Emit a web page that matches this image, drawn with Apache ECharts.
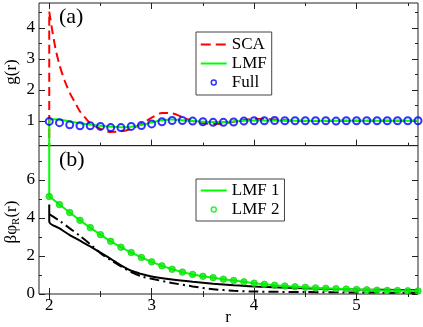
<!DOCTYPE html>
<html><head><meta charset="utf-8">
<script src="https://cdn.jsdelivr.net/npm/echarts@6/dist/echarts.min.js"></script>
<style>html,body{margin:0;padding:0;background:#fff}#c{width:423px;height:327px}</style>
</head><body><div id="c"></div>
<script>
// ---- data ----
const rSCA = [2,2,2.03,2.06,2.1,2.15,2.2,2.25,2.3,2.35,2.4,2.5,2.6,2.7,2.8,2.9,3.0,3.1,3.2,3.3,3.4,3.5,3.6,3.7,3.8,3.9,4.0,4.1,4.2,4.4,4.6,4.8,5.0,5.2,5.4,5.6];
const gSCA = [0,4.52,3.9,3.35,2.8,2.3,1.9,1.6,1.3,1.1,0.92,0.74,0.64,0.66,0.74,0.9,1.1,1.25,1.24,1.12,0.99,0.92,0.9,0.92,0.97,1.03,1.06,1.06,1.04,1.0,0.99,1.0,1.0,1.0,1.0,1.0];
const rLMF = [2,2,2.05,2.1,2.2,2.3,2.4,2.5,2.6,2.7,2.8,2.9,3.0,3.1,3.2,3.3,3.4,3.5,3.6,3.7,3.8,3.9,4.0,4.2,4.4,4.6,4.8,5.0,5.2,5.4,5.6];
const gLMF = [0,1.02,1.05,1.04,0.98,0.92,0.88,0.84,0.81,0.79,0.81,0.86,0.95,1.02,1.04,1.02,0.99,0.97,0.96,0.96,0.98,1.0,1.01,1.01,1.0,1.0,1.0,1.0,1.0,1.0,1.0];
const rFull = [2.0,2.1,2.2,2.3,2.4,2.5,2.6,2.7,2.8,2.9,3.0,3.1,3.2,3.3,3.4,3.5,3.6,3.7,3.8,3.9,4.0,4.1,4.2,4.3,4.4,4.5,4.6,4.7,4.8,4.9,5.0,5.1,5.2,5.3,5.4,5.5,5.6];
const gFull = [0.98,0.94,0.87,0.84,0.84,0.82,0.78,0.78,0.82,0.85,0.90,0.97,1.01,1.01,0.99,0.97,0.95,0.95,0.96,0.99,1.0,1.0,1.01,1.0,1.0,1.0,1.0,1.0,0.99,1.0,1.0,1.0,1.0,1.0,1.0,1.0,1.0];

const rB = [2.0,2.1,2.2,2.3,2.4,2.5,2.6,2.7,2.8,2.9,3.0,3.1,3.2,3.3,3.4,3.5,3.6,3.7,3.8,3.9,4.0,4.1,4.2,4.3,4.4,4.5,4.6,4.7,4.8,4.9,5.0,5.1,5.2,5.3,5.4,5.5,5.6];
const phiLMF2 = [5.13,4.70,4.28,3.87,3.49,3.12,2.77,2.46,2.18,1.92,1.69,1.48,1.30,1.15,1.03,0.93,0.86,0.78,0.71,0.64,0.57,0.51,0.46,0.42,0.38,0.35,0.32,0.30,0.28,0.26,0.24,0.22,0.20,0.19,0.18,0.17,0.16];
const rLMF1 = [2.0].concat(rB);
const phiLMF1 = [20].concat(phiLMF2);
const rSolid = [2,2,2.1,2.2,2.3,2.4,2.5,2.6,2.7,2.8,2.9,3.0,3.2,3.4,3.6,3.8,4.0,4.5,5.0,5.6];
const phiSolid = [4.7,3.8,3.45,3.1,2.8,2.5,2.17,1.85,1.5,1.22,1.05,0.92,0.76,0.64,0.54,0.46,0.40,0.3,0.24,0.2];
const rDash = [2,2.1,2.2,2.3,2.4,2.5,2.6,2.7,2.8,2.9,3.0,3.2,3.4,3.6,3.8,4.0,4.5,5.0,5.6];
const phiDash = [4.2,3.85,3.45,3.05,2.62,2.15,1.78,1.45,1.15,0.93,0.8,0.58,0.4,0.25,0.17,0.13,0.1,0.08,0.06];

const xMajor = [2,3,4,5];
const xMinor = [2.5,3.5,4.5,5.5];
const yTopMajor = [1,2,3,4];
const yTopMinor = [0.5,1.5,2.5,3.5,4.5];
const yBotMajor = [0,2,4,6];
const yBotMinor = [1,3,5,7];

// ---- chart ----
const FONT = 'Liberation Serif';
const AX = '#222';
const L = 39, W = 379;
const grids = [
  {left:L, top:3, width:W, height:142.6, show:true, borderColor:AX, borderWidth:1, containLabel:false, outerBoundsMode:'none'},
  {left:L, top:145.6, width:W, height:148.4, show:true, borderColor:AX, borderWidth:1, containLabel:false, outerBoundsMode:'none'}
];
const xAxes = [], yAxes = [];
function xa(grid, pos, vals, len, labels){
  xAxes.push({type:'value', gridIndex:grid, position:pos, min:1.9, max:5.6,
    axisLine:{show:false}, splitLine:{show:false},
    axisTick:{show:true, inside:true, length:len, customValues:vals, lineStyle:{color:AX,width:1}},
    axisLabel:{show:labels, customValues:vals, fontFamily:FONT, fontSize:17, color:'#000', margin:3}});
  return xAxes.length-1;
}
function ya(grid, pos, min, max, vals, len, labels){
  yAxes.push({type:'value', gridIndex:grid, position:pos, min:min, max:max,
    axisLine:{show:false}, splitLine:{show:false},
    axisTick:{show:true, inside:true, length:len, customValues:vals, lineStyle:{color:AX,width:1}},
    axisLabel:{show:labels, customValues:vals, fontFamily:FONT, fontSize:17, color:'#000', margin:4}});
  return yAxes.length-1;
}
const xTop = xa(0,'bottom',xMajor,6,false); xa(0,'bottom',xMinor,3,false);
xa(0,'top',xMajor,6,false); xa(0,'top',xMinor,3,false);
const xBot = xa(1,'bottom',xMajor,6,true); xa(1,'bottom',xMinor,3,false);
xa(1,'top',xMajor,6,false); xa(1,'top',xMinor,3,false);
const yTop = ya(0,'left',0.2,4.8,yTopMajor,6,true); ya(0,'left',0.2,4.8,yTopMinor,3,false);
ya(0,'right',0.2,4.8,yTopMajor,6,false); ya(0,'right',0.2,4.8,yTopMinor,3,false);
const yBot = ya(1,'left',0,7.8,yBotMajor,6,true); ya(1,'left',0,7.8,yBotMinor,3,false);
ya(1,'right',0,7.8,yBotMajor,6,false); ya(1,'right',0,7.8,yBotMinor,3,false);

function zip(a,b){return a.map((v,i)=>[v,b[i]]);}

const series = [
  {name:'SCA', type:'line', xAxisIndex:xTop, yAxisIndex:yTop, data:zip(rSCA,gSCA), symbol:'none', smooth:0.3,
    lineStyle:{color:'#ff0000', width:2, type:[9,5]}, itemStyle:{color:'#ff0000'}, z:3},
  {name:'LMF', type:'line', xAxisIndex:xTop, yAxisIndex:yTop, data:zip(rLMF,gLMF), symbol:'none', smooth:0.3,
    lineStyle:{color:'#00ff00', width:2}, itemStyle:{color:'#00ff00'}, z:4},
  {name:'Full', type:'scatter', xAxisIndex:xTop, yAxisIndex:yTop, data:zip(rFull,gFull), symbol:'circle', symbolSize:7,
    itemStyle:{color:'rgba(0,0,0,0)', borderColor:'#0000ff', borderWidth:2}, z:5},
  {name:'LMF 1', type:'line', xAxisIndex:xBot, yAxisIndex:yBot, data:zip(rLMF1,phiLMF1), symbol:'none',
    lineStyle:{color:'#00ff00', width:2}, itemStyle:{color:'#00ff00'}, z:4},
  {name:'LMF 2', type:'scatter', xAxisIndex:xBot, yAxisIndex:yBot, data:zip(rB,phiLMF2), symbol:'circle', symbolSize:6.5,
    itemStyle:{color:'#00ee00', borderColor:'#22cc22', borderWidth:1}, z:5},
  {name:'solid', type:'line', xAxisIndex:xBot, yAxisIndex:yBot, data:zip(rSolid,phiSolid), symbol:'none', smooth:0.3,
    lineStyle:{color:'#000', width:2}, z:3},
  {name:'dashdot', type:'line', xAxisIndex:xBot, yAxisIndex:yBot, data:zip(rDash,phiDash), symbol:'none', smooth:0.3,
    lineStyle:{color:'#000', width:2, type:[10,4,2,4]}, z:3}
];

const BOX = 'M0,0M26,12';
const legendCommon = {orient:'vertical', show:true, borderColor:'#444', borderWidth:1,
  itemWidth:26, itemHeight:12, itemGap:2, backgroundColor:'#fff', symbolKeepAspect:false,
  textStyle:{fontFamily:FONT, fontSize:17, color:'#000', lineHeight:12, padding:[0,0,0,0]}};

const rich = {a:{fontFamily:FONT,fontSize:17,fill:'#000'}, s:{fontFamily:FONT,fontSize:11,fill:'#000',padding:[9,0,0,0]}};

const option = {
  animation:false,
  grid:grids, xAxis:xAxes, yAxis:yAxes, series:series,
  legend:[
    Object.assign({}, legendCommon, {left:196, top:32, padding:[4,5,4,4], data:[
      {name:'SCA', icon:'path://'+BOX+'M0,5h10v2h-10zM15,5h10v2h-10z', itemStyle:{color:'#ff0000', borderWidth:0}},
      {name:'LMF', icon:'path://'+BOX+'M0,5h26v2h-26z', itemStyle:{color:'#00ff00', borderWidth:0}},
      {name:'Full', icon:'path://'+BOX+'M10.5,6a2.5,2.5 0 1 0 5,0a2.5,2.5 0 1 0 -5,0z', itemStyle:{color:'#fff', borderColor:'#0000ff', borderWidth:1.5}}
    ]}),
    Object.assign({}, legendCommon, {left:196, top:179, padding:[3,5,3,4], data:[
      {name:'LMF 1', icon:'path://'+BOX+'M0,5h26v2h-26z', itemStyle:{color:'#00ff00', borderWidth:0}},
      {name:'LMF 2', icon:'path://'+BOX+'M10.5,6a2.5,2.5 0 1 0 5,0a2.5,2.5 0 1 0 -5,0z', itemStyle:{color:'#fff', borderColor:'#00ee00', borderWidth:1.5}}
    ]})
  ],
  graphic:[
    {type:'text', left:59, top:6, style:{text:'(a)', font:'22px "Liberation Serif"', fill:'#000'}},
    {type:'text', left:59, top:149, style:{text:'(b)', font:'22px "Liberation Serif"', fill:'#000'}},
    {type:'text', x:12, y:72, rotation:Math.PI/2, style:{text:'g(r)', font:'17px "Liberation Serif"', fill:'#000', align:'center', verticalAlign:'middle'}},
    {type:'text', x:12, y:222, rotation:Math.PI/2, style:{text:'{a|βφ}{s|R}{a|(r)}', rich:rich, font:'17px "Liberation Serif"', fill:'#000', align:'center', verticalAlign:'middle'}},
    {type:'text', x:228, y:318, style:{text:'r', font:'17px "Liberation Serif"', fill:'#000', align:'center', verticalAlign:'middle'}}
  ]
};
const chart = echarts.init(document.getElementById('c'), null, {renderer:'canvas'});
chart.setOption(option);
</script></body></html>
